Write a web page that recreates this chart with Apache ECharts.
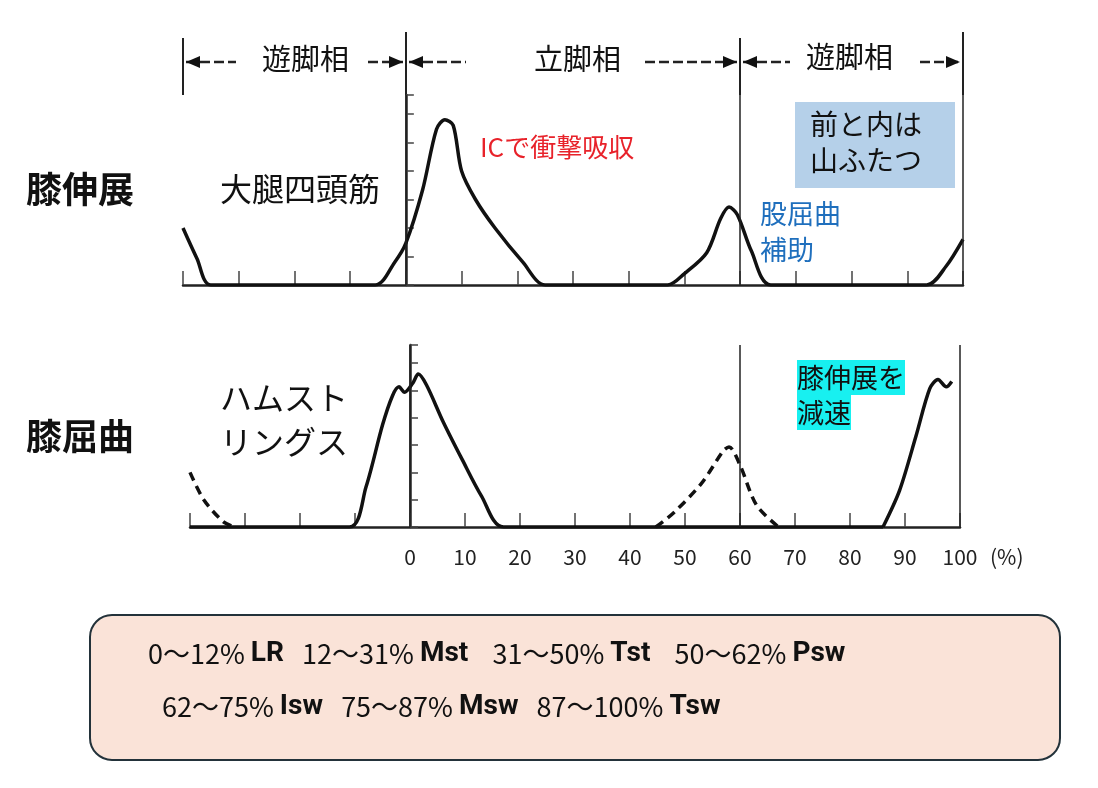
<!DOCTYPE html>
<html><head><meta charset="utf-8">
<script src="https://cdn.jsdelivr.net/npm/echarts@6/dist/echarts.min.js"></script>
<style>html,body{margin:0;background:#fff}#c{width:1098px;height:788px}</style>
</head><body><div id="c"></div>
<script>
// gait cycle %, EMG level (0-100)
const quadriceps = [[-40,30],[-37.5,14],[-35,0],[-5.5,0],[-2,12],[0,22],[3,50],[5.5,82],[7,87],[8.5,84],[10,60],[12.5,45],[16,30],[21,12],[25,0],[47,0],[50,6],[54,17],[56.5,35],[58,41],[59.5,37],[62,18],[65.5,0],[93.5,0],[97,10],[100,24]];
const hamSolid = [[-40,0],[-11,0],[-8,22],[-5,56],[-3.2,72],[-2,77],[-1,74],[0.5,79],[1.5,84],[3,78],[6,58],[9.5,37],[13,17],[17,0],[86,0]];
const hamSolidEnd = [[86,0],[89,20],[92,50],[94.5,76],[96,81],[97.5,77],[98.5,80]];
const hamDashLeft = [[-40,30],[-37.5,15],[-34,3],[-32,0]];
const hamDashMid = [[44.7,0],[48,8],[53,24],[57,42],[58,44],[60,34],[63,12],[67,0]];
const xTicks = [0,10,20,30,40,50,60,70,80,90,100];
const phaseLines = [0,60];

const font = '"Noto Sans CJK JP", sans-serif';
const chart = echarts.init(document.getElementById('c'));
const axisBase = { lineStyle: { color: '#222', width: 2.5 } };
function xAxis(idx, showLabel) {
  return {
    gridIndex: idx, type: 'value', min: -40, max: 100, interval: 10,
    axisLine: { show: true, ...axisBase },
    axisTick: { show: true, inside: true, length: 14, lineStyle: { color: '#444', width: 1.5 } },
    splitLine: { show: false },
    axisLabel: {
      show: showLabel, color: '#222', fontSize: 21, fontFamily: font, margin: 20,
      formatter: (v) => (xTicks.includes(v) ? String(v) : ''),
    },
  };
}
function yAxis(idx) {
  return {
    gridIndex: idx, type: 'value', min: 0, max: 100, interval: 15,
    axisLine: { show: true, ...axisBase },
    axisTick: { show: true, inside: true, length: 8, lineStyle: { color: '#444', width: 1.5 } },
    axisLabel: { show: false }, splitLine: { show: false },
  };
}
const lineStyle = { color: '#111', width: 3.5 };
function line(idx, data, dashed) {
  return {
    type: 'line', xAxisIndex: idx, yAxisIndex: idx, data, smooth: 0.3, symbol: 'none',
    lineStyle: { ...lineStyle, type: dashed ? [9, 6] : 'solid' }, silent: true,
  };
}
const vmark = {
  silent: true, symbol: 'none', label: { show: false },
  lineStyle: { color: '#222', width: 1.5, type: 'solid' },
  data: [...phaseLines.map((v) => ({ xAxis: v })), { xAxis: 100 }],
};
const s0 = line(0, quadriceps); s0.markLine = vmark;
const s1 = line(1, hamSolid); s1.markLine = vmark;

function txt(x, y, text, size, color, extra) {
  return { type: 'text', left: x, top: y, style: { text, font: `${(extra && extra.weight) || 'normal'} ${size}px ${font}`, fill: color || '#111', lineHeight: (extra && extra.lh) || size * 1.3, backgroundColor: extra && extra.bg } };
}
function vline(x, y1, y2) { return { type: 'line', shape: { x1: x, y1, x2: x, y2 }, style: { stroke: '#222', lineWidth: 2 } }; }
function arrow(x1, x2, dir) {
  const y = 62;
  const tip = dir > 0 ? x2 : x1;
  return [
    { type: 'line', shape: { x1, y1: y, x2, y2: y }, style: { stroke: '#222', lineWidth: 2.5, lineDash: [10, 4] } },
    { type: 'polygon', shape: { points: [[tip, y], [tip - dir * 14, y - 6], [tip - dir * 14, y + 6]] }, style: { fill: '#111' } },
  ];
}
const rich = { n: { font: `27px ${font}`, fill: '#111' }, b: { font: `bold 28px Roboto, sans-serif`, fill: '#111' } };

chart.setOption({
  animation: false,
  grid: [
    { left: 183, right: 135, top: 95, height: 190 },
    { left: 190, right: 138, top: 345, height: 182 },
  ],
  xAxis: [xAxis(0, false), xAxis(1, true)],
  yAxis: [yAxis(0), yAxis(1)],
  series: [s0, s1, line(1, hamSolidEnd), line(1, hamDashLeft, true), line(1, hamDashMid, true)],
  graphic: [
    vline(183, 38, 95), vline(406, 32, 95), vline(740, 38, 95), vline(963, 32, 95),
    ...arrow(186, 236, -1), ...arrow(368, 403, 1),
    ...arrow(409, 466, -1), ...arrow(645, 737, 1),
    ...arrow(743, 790, -1), ...arrow(920, 960, 1),
    txt(262, 40, '遊脚相', 29), txt(534, 40, '立脚相', 29), txt(806, 38, '遊脚相', 29),
    txt(26, 166, '膝伸展', 36, '#111', { weight: 'bold' }),
    txt(26, 413, '膝屈曲', 36, '#111', { weight: 'bold' }),
    txt(220, 168, '大腿四頭筋', 32),
    txt(480, 130, 'ICで衝撃吸収', 26, '#e8222a'),
    { type: 'rect', shape: { x: 795, y: 102, width: 160, height: 86 }, style: { fill: '#b5d0e9' } },
    txt(810, 106, '前と内は\n山ふたつ', 28, '#111', { lh: 36 }),
    txt(760, 196, '股屈曲\n補助', 27, '#1f6fbd', { lh: 36 }),
    txt(220, 376, 'ハムスト\nリングス', 32, '#111', { lh: 44 }),
    txt(797, 360, '膝伸展を', 27, '#111', { bg: '#18f0f0' }),
    txt(797, 395, '減速', 27, '#111', { bg: '#18f0f0' }),
    txt(990, 543, '(%)', 21, '#222'),
    { type: 'rect', shape: { x: 90, y: 615, width: 970, height: 145, r: 22 }, style: { fill: '#fae3d8', stroke: '#23323a', lineWidth: 2 } },
    { type: 'text', left: 148, top: 640, style: { rich,
      text: '{n|0〜12% }{b|LR}{n|   12〜31% }{b|Mst}{n|    31〜50% }{b|Tst}{n|    50〜62% }{b|Psw}' } },
    { type: 'text', left: 162, top: 693, style: { rich,
      text: '{n|62〜75% }{b|Isw}{n|   75〜87% }{b|Msw}{n|   87〜100% }{b|Tsw}' } },
  ],
});
</script></body></html>
